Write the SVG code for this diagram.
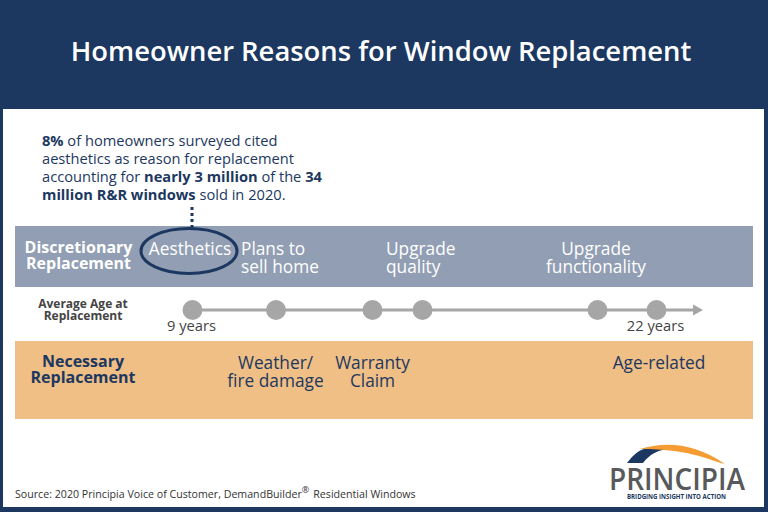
<svg xmlns="http://www.w3.org/2000/svg" width="768" height="512" viewBox="0 0 768 512">
<style>
text{font-family:"Open Sans","Noto Sans","DejaVu Sans",sans-serif}
.w{fill:#fff;font-size:17.3px}
.n{fill:#1c3860;font-size:17.3px}
.t{fill:#1c3860;font-size:14.65px}
.b{font-weight:700}
.h{font-size:16px;font-weight:700}
.g{fill:#444;font-size:14.7px}
.a{fill:#444;font-size:12px;font-weight:700}
.d{fill:#a6a6a6}
.m{text-anchor:middle}
</style>
<rect id="background" width="768" height="512" fill="#1c3860"/>
<rect id="panel" x="3" y="109" width="761" height="398" fill="#fff"/>
<text id="title" x="381" y="61" class="m" font-weight="600" fill="#fff" font-size="27.4">Homeowner Reasons for Window Replacement</text>
<g id="callout">
<text class="t" x="42" y="146"><tspan class="b">8%</tspan> of homeowners surveyed cited</text>
<text class="t" x="42" y="164">aesthetics as reason for replacement</text>
<text class="t" x="42" y="182">accounting for <tspan class="b">nearly 3 million</tspan> of the <tspan class="b">34</tspan></text>
<text class="t" x="42" y="200"><tspan class="b">million R&amp;R windows</tspan> sold in 2020.</text>
</g>
<g id="discretionary-band">
<rect x="15" y="226" width="738" height="61" fill="#919eb3"/>
<text class="w h m" x="78.500" y="253">Discretionary</text>
<text class="w h m" x="78.500" y="269">Replacement</text>
</g>
<g id="necessary-band">
<rect x="15" y="341" width="738" height="78" fill="#efbf85"/>
<text class="n h m" x="83" y="367">Necessary</text>
<text class="n h m" x="83" y="383">Replacement</text>
</g>
<g id="connectors">
<line x1="192" y1="207" x2="192" y2="228" stroke="#1c3860" stroke-width="3" stroke-dasharray="3 3"/>
<line x1="192" y1="310" x2="694" y2="310" stroke="#a6a6a6" stroke-width="3"/>
<polygon points="693,304.500 703,310 693,315.500" fill="#a6a6a6"/>
</g>
<g id="aesthetics">
<ellipse cx="189" cy="251" rx="48" ry="22.500" fill="none" stroke="#1c3860" stroke-width="3"/>
<text class="w m" x="190" y="255">Aesthetics</text>
</g>
<g id="plans-to-sell"><text class="w" x="241" y="255">Plans to</text><text class="w" x="241" y="273">sell home</text></g>
<g id="upgrade-quality"><text class="w" x="386" y="255">Upgrade</text><text class="w" x="386" y="273">quality</text></g>
<g id="upgrade-functionality"><text class="w m" x="596" y="255">Upgrade</text><text class="w m" x="596" y="273">functionality</text></g>
<g id="age-label"><text class="a m" x="83" y="308">Average Age at</text><text class="a m" x="83" y="320">Replacement</text></g>
<g id="dot-9-years"><circle class="d" cx="192.500" cy="310" r="10"/><text class="g m" x="191.500" y="331">9 years</text></g>
<g id="dot-2"><circle class="d" cx="276" cy="310" r="10"/></g>
<g id="dot-3"><circle class="d" cx="372.500" cy="310" r="10"/></g>
<g id="dot-4"><circle class="d" cx="422.500" cy="310" r="10"/></g>
<g id="dot-5"><circle class="d" cx="597.500" cy="310" r="10"/></g>
<g id="dot-22-years"><circle class="d" cx="656.500" cy="310" r="10"/><text class="g m" x="655.500" y="331">22 years</text></g>
<g id="weather"><text class="n m" x="275.500" y="369">Weather/</text><text class="n m" x="275.500" y="387">fire damage</text></g>
<g id="warranty"><text class="n m" x="372.500" y="369">Warranty</text><text class="n m" x="372.500" y="387">Claim</text></g>
<g id="age-related"><text class="n m" x="659" y="369">Age-related</text></g>
<text id="source" x="15" y="498" fill="#333" font-size="10.65">Source: 2020 Principia Voice of Customer, DemandBuilder<tspan font-size="9" dy="-5">®</tspan><tspan dy="5" dx="4">Residential Windows</tspan></text>
<g id="logo">
<path d="M627 463C634 454 638 451 644 449C655 447 665 447 672 448C657 450 650 454 643 463Z" fill="#1c3860"/>
<path d="M640 449C665 441 695 443 725 464C705 459 690 449 640 449Z" fill="#f59c33"/>
<text x="609" y="490" fill="#58595b" font-size="30.500" font-weight="600" textLength="136" lengthAdjust="spacingAndGlyphs">PRINCIPIA</text>
<text x="627" y="499" fill="#1c3860" font-size="6.500" font-weight="700" textLength="99" lengthAdjust="spacingAndGlyphs">BRIDGING INSIGHT INTO ACTION</text>
</g>
</svg>
